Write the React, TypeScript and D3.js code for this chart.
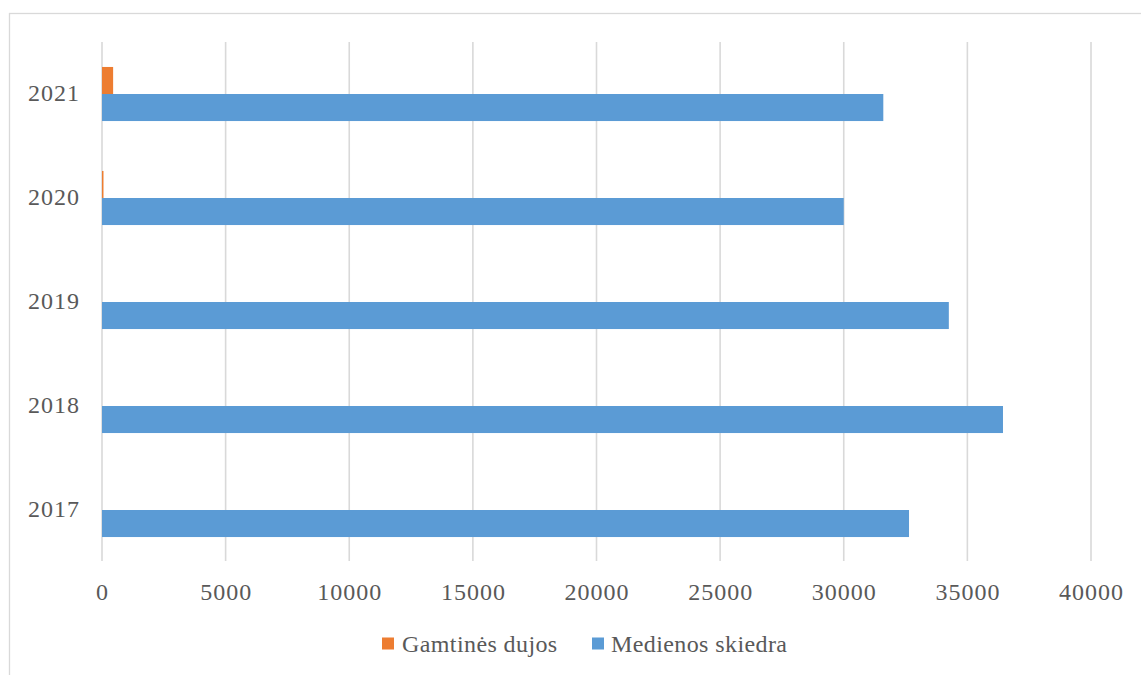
import React from "react";
import * as d3 from "d3";

const years = ["2017", "2018", "2019", "2020", "2021"];
const gasValues = [0, 0, 0, 60, 450];
const woodValues = [32640, 36440, 34250, 30000, 31600];
const xTicks = [0, 5000, 10000, 15000, 20000, 25000, 30000, 35000, 40000];
const seriesNames = ["Gamtinės dujos", "Medienos skiedra"];
const seriesColors = ["#ED7D31", "#5B9BD5"];

const W = 1141;
const H = 675;
const plot = { left: 102, right: 1091, top: 42, bottom: 562 };
const font = "'Liberation Serif', 'DejaVu Serif', serif";
const textColor = "#595959";

export default function App() {
  const x = d3.scaleLinear().domain([0, 40000]).range([plot.left, plot.right]);
  // categories from bottom (2017) to top (2021)
  const y = d3
    .scaleBand<string>()
    .domain([...years].reverse())
    .range([plot.top, plot.bottom])
    .paddingInner(0.48)
    .paddingOuter(0.24);
  const inner = d3.scaleBand<string>().domain(["gas", "wood"]).range([0, y.bandwidth()]);

  return (
    <svg
      width={W}
      height={H}
      style={{ position: "absolute", left: 0, top: 0, background: "#fff" }}
      fontFamily={font}
    >
      <rect x={9.5} y={13.5} width={W + 10} height={H + 10} fill="#fff" stroke="#d9d9d9" strokeWidth={1.3} />
      {xTicks.map((t) => (
        <g key={t}>
          <line x1={x(t)} x2={x(t)} y1={plot.top} y2={plot.bottom - 1} stroke="#d9d9d9" strokeWidth={1.6} />
          <text x={x(t) + 0.5} y={600} textAnchor="middle" fontSize={24} letterSpacing={1} fill={textColor}>
            {t}
          </text>
        </g>
      ))}
      {years.map((yr, i) => {
        const y0 = y(yr)!;
        return (
          <g key={yr}>
            <rect
              x={x(0)}
              y={y0 + inner("gas")!}
              width={x(gasValues[i]) - x(0)}
              height={inner.bandwidth()}
              fill={seriesColors[0]}
            />
            <rect
              x={x(0)}
              y={y0 + inner("wood")!}
              width={x(woodValues[i]) - x(0)}
              height={inner.bandwidth()}
              fill={seriesColors[1]}
            />
            <text
              x={80}
              y={y0 + y.bandwidth() / 2 + 7}
              textAnchor="end"
              fontSize={24}
              letterSpacing={1}
              fill={textColor}
            >
              {yr}
            </text>
          </g>
        );
      })}
      <g>
        <rect x={382} y={637.5} width={12} height={12} fill={seriesColors[0]} />
        <text x={402} y={652} fontSize={24} letterSpacing={0.4} fill={textColor}>
          {seriesNames[0]}
        </text>
        <rect x={592} y={637.5} width={12} height={12} fill={seriesColors[1]} />
        <text x={611} y={652} fontSize={24} letterSpacing={0.4} fill={textColor}>
          {seriesNames[1]}
        </text>
      </g>
    </svg>
  );
}
